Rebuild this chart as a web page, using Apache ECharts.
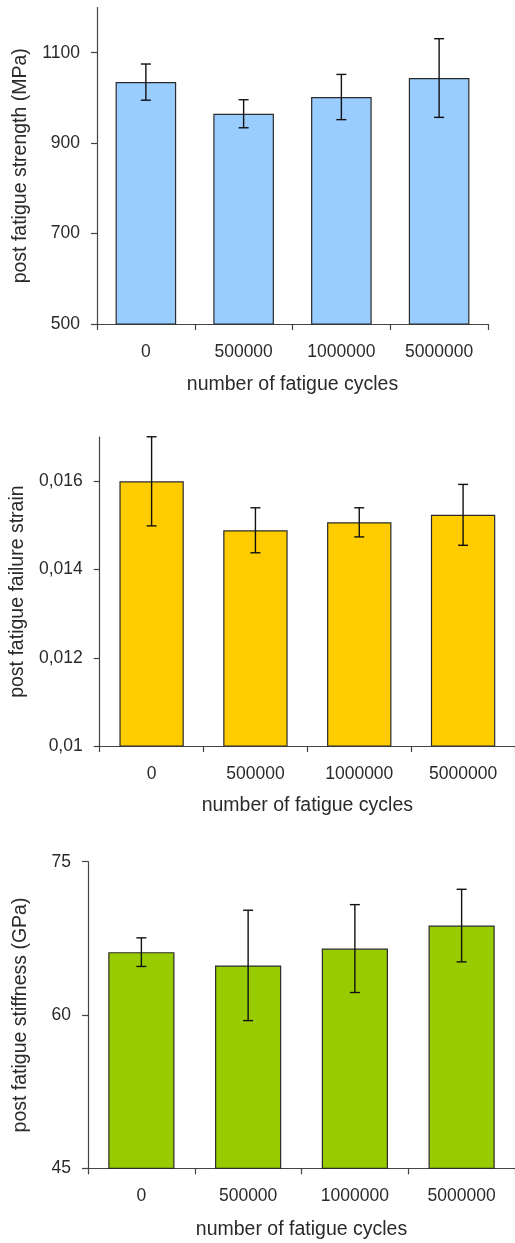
<!DOCTYPE html>
<html>
<head>
<meta charset="utf-8">
<script src="https://cdn.jsdelivr.net/npm/echarts@6/dist/echarts.min.js"></script>
<style>
  html, body { margin: 0; padding: 0; background: #fff; }
  #main { width: 515px; height: 1243px; }
</style>
</head>
<body>
<div id="main"></div>
<script>
// Fatigue cycle groups
const categories = ['0', '500000', '1000000', '5000000'];

// Post fatigue strength (MPa): mean and standard deviation
const strengthMean = [1035, 965, 1002, 1044];
const strengthErr = [40, 31, 50, 87];
const strengthTicks = [500, 700, 900, 1100];

// Post fatigue failure strain: mean and standard deviation
const strainMean = [0.0160, 0.01489, 0.01507, 0.01524];
const strainErr = [0.00101, 0.00051, 0.00033, 0.00069];
const strainTicks = [0.01, 0.012, 0.014, 0.016];

// Post fatigue stiffness (GPa): mean and standard deviation
const stiffnessMean = [66.15, 64.85, 66.5, 68.75];
const stiffnessErr = [1.4, 5.4, 4.3, 3.55];
const stiffnessTicks = [45, 60, 75];

const FONT = 'Liberation Sans';
const AXIS_COLOR = '#444';
const TEXT_COLOR = '#2a2a2a';
const NAME_SIZE = 19.5;
const LABEL_SIZE = 17.5;

function errorData(mean, err) {
  return mean.map((m, i) => [i, m - err[i], m + err[i]]);
}

function renderErrorBar(params, api) {
  const i = api.value(0);
  const lo = api.coord([i, api.value(1)]);
  const hi = api.coord([i, api.value(2)]);
  const half = 5;
  const style = { stroke: '#111', lineWidth: 1.4, fill: null };
  return {
    type: 'group',
    children: [
      { type: 'line', shape: { x1: hi[0], y1: hi[1], x2: lo[0], y2: lo[1] }, style },
      { type: 'line', shape: { x1: hi[0] - half, y1: hi[1], x2: hi[0] + half, y2: hi[1] }, style },
      { type: 'line', shape: { x1: lo[0] - half, y1: lo[1], x2: lo[0] + half, y2: lo[1] }, style }
    ]
  };
}

function xAxisFor(gridIndex, nameGap) {
  return {
    type: 'category',
    gridIndex,
    data: categories,
    name: 'number of fatigue cycles',
    nameLocation: 'middle',
    nameGap,
    nameTextStyle: { fontFamily: FONT, fontSize: NAME_SIZE, color: TEXT_COLOR },
    axisLine: { lineStyle: { color: AXIS_COLOR, width: 1.2 } },
    axisTick: { show: true, length: 6, lineStyle: { color: AXIS_COLOR, width: 1.2 } },
    axisLabel: { fontFamily: FONT, fontSize: LABEL_SIZE, color: TEXT_COLOR, margin: 19 },
    splitLine: { show: false }
  };
}

function yAxisFor(gridIndex, name, min, max, ticks, nameGap, fmt) {
  return {
    type: 'value',
    gridIndex,
    min,
    max,
    name,
    nameLocation: 'middle',
    nameGap,
    nameTextStyle: { fontFamily: FONT, fontSize: NAME_SIZE, color: TEXT_COLOR },
    axisLine: { show: true, lineStyle: { color: AXIS_COLOR, width: 1.2 } },
    axisTick: { show: true, length: 6, customValues: ticks, lineStyle: { color: AXIS_COLOR, width: 1.2 } },
    axisLabel: {
      fontFamily: FONT, fontSize: LABEL_SIZE, color: TEXT_COLOR, margin: 17,
      customValues: ticks,
      formatter: fmt || (v => String(v))
    },
    splitLine: { show: false }
  };
}

function barSeries(idx, values, color) {
  return {
    type: 'bar',
    xAxisIndex: idx,
    yAxisIndex: idx,
    data: values,
    barWidth: '62%',
    itemStyle: { color, borderColor: '#2b2b2b', borderWidth: 1.2 },
    silent: true,
    z: 2
  };
}

function errorSeries(idx, mean, err) {
  return {
    type: 'custom',
    xAxisIndex: idx,
    yAxisIndex: idx,
    data: errorData(mean, err),
    renderItem: renderErrorBar,
    encode: { x: 0, y: [1, 2] },
    silent: true,
    z: 3
  };
}

const chart = echarts.init(document.getElementById('main'), null, { renderer: 'canvas' });

chart.setOption({
  animation: false,
  backgroundColor: '#fff',
  grid: [
    { left: 97, right: 27, top: 7.5, height: 316.5 },
    { left: 97, right: -2, top: 437.2, height: 308.8 },
    { left: 88, right: -2, top: 861.7, height: 306.6 }
  ],
  xAxis: [
    xAxisFor(0, 51),
    xAxisFor(1, 50),
    xAxisFor(2, 51)
  ],
  yAxis: [
    yAxisFor(0, 'post fatigue strength (MPa)', 500, 1200, strengthTicks, 66),
    yAxisFor(1, 'post fatigue failure strain', 0.01, 0.017, strainTicks, 69,
      v => String(+v.toFixed(4)).replace('.', ',')),
    yAxisFor(2, 'post fatigue stiffness (GPa)', 45, 75, stiffnessTicks, 57)
  ],
  series: [
    barSeries(0, strengthMean, '#99CCFF'),
    errorSeries(0, strengthMean, strengthErr),
    barSeries(1, strainMean, '#FFCC00'),
    errorSeries(1, strainMean, strainErr),
    barSeries(2, stiffnessMean, '#99CC00'),
    errorSeries(2, stiffnessMean, stiffnessErr)
  ]
});
</script>
</body>
</html>
